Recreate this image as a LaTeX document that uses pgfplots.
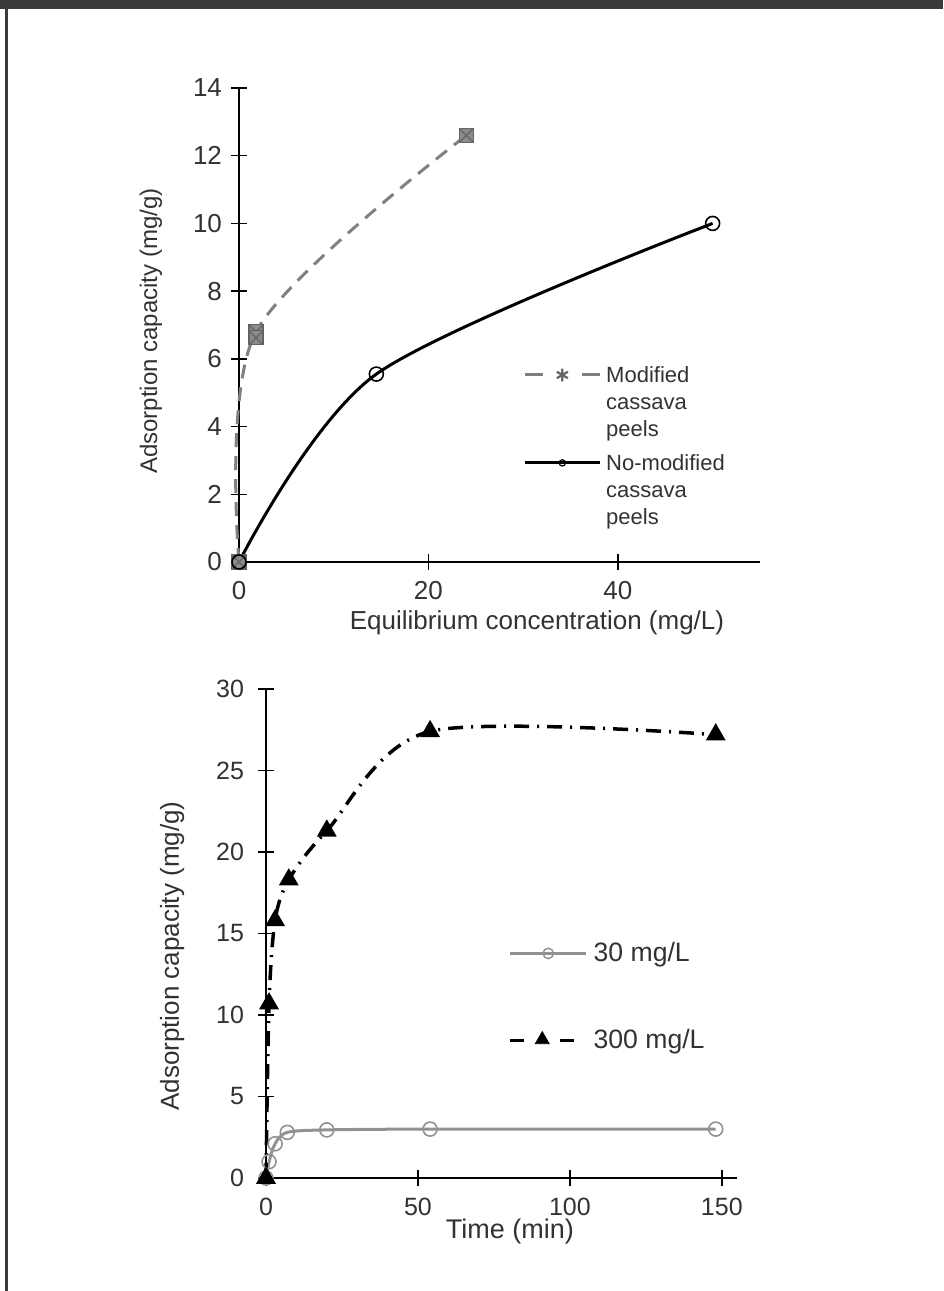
\documentclass[border=0pt]{standalone}
\usepackage{fontspec}
\setmainfont{Liberation Sans}
\usepackage{pgfplots}
\pgfplotsset{compat=1.18}

\definecolor{txt}{RGB}{50,50,50}
\definecolor{modgray}{RGB}{128,128,128}
\definecolor{mkgray}{RGB}{100,100,100}
\definecolor{lowgray}{RGB}{145,145,145}
\definecolor{barc}{RGB}{58,58,58}

% gray box with a cross, as in the spreadsheet chart
\pgfdeclareplotmark{boxx}{%
  \pgfpathrectangle{\pgfqpoint{-\pgfplotmarksize}{-\pgfplotmarksize}}%
    {\pgfqpoint{2\pgfplotmarksize}{2\pgfplotmarksize}}%
  \pgfusepathqfillstroke
  \pgfpathmoveto{\pgfqpoint{-\pgfplotmarksize}{-\pgfplotmarksize}}%
  \pgfpathlineto{\pgfqpoint{\pgfplotmarksize}{\pgfplotmarksize}}%
  \pgfpathmoveto{\pgfqpoint{-\pgfplotmarksize}{\pgfplotmarksize}}%
  \pgfpathlineto{\pgfqpoint{\pgfplotmarksize}{-\pgfplotmarksize}}%
  \pgfusepathqstroke
}

\pgfplotsset{
  excel/.style={
    scale only axis,
    axis lines=left,
    axis line style={-, black, line width=0.9pt},
    tick align=center,
    major tick length=8pt,
    tick style={black, line width=0.7pt},
    ticklabel style={text=txt},
    label style={text=txt},
    /pgf/number format/assume math mode=true,
    clip=false,
    legend cell align=left,
    legend style={draw=none, fill=none, inner sep=0pt, text=txt,
      cells={align=left}, nodes={inner sep=1pt}},
  },
}

\begin{document}
\begin{tikzpicture}
\useasboundingbox (0,0) rectangle (471.5pt,645.5pt);
\fill[barc] (0,641pt) rectangle (471.5pt,645.5pt);
\draw[barc, line width=1.5pt] (3pt,0) -- (3pt,641pt);

% isotherm
\begin{axis}[excel,
  at={(119.5pt,364.5pt)}, anchor=south west,
  width=260.5pt, height=237pt,
  xmin=0, xmax=55, ymin=0, ymax=14,
  xtick={0,20,40}, ytick={0,2,...,14},
  ticklabel style={font=\fontsize{13}{15}\selectfont},
  xticklabel style={yshift=-2pt},
  yticklabel style={xshift=-1pt},
  xlabel={Equilibrium concentration (mg/L)},
  ylabel={Adsorption capacity (mg/g)},
  xlabel style={font=\fontsize{13}{15}\selectfont,
    at={(axis description cs:0.572,-0.1414)}, anchor=base},
  ylabel style={font=\fontsize{12}{14}\selectfont,
    at={(axis description cs:-0.157,0.487)}, anchor=base},
  legend style={at={(axis description cs:0.545,0.4175)}, anchor=north west,
    font=\fontsize{11}{13.5}\selectfont, row sep=5.5pt},
]
\addplot[modgray, line width=1.5pt, dash pattern=on 7pt off 4.5pt, smooth,
  mark=boxx, mark size=3.5pt,
  mark options={solid, fill=mkgray!75, draw=mkgray, line width=0.6pt}, forget plot]
  coordinates {(0,0) (1.8,6.8) (24,12.6)};
\addplot[only marks, mark=boxx, mark size=3.5pt,
  mark options={solid, fill=mkgray!75, draw=mkgray, line width=0.6pt}, forget plot]
  coordinates {(1.8,6.62)};
\addplot[black, line width=1.5pt, smooth, mark=o, mark size=3.5pt,
  mark options={solid, line width=0.8pt}, forget plot]
  coordinates {(0,0) (14.5,5.55) (50,10)};
\addlegendimage{legend image code/.code={
  \begin{scope}[yshift=14pt]
  \draw[modgray, line width=1.5pt, dash pattern=on 9pt off 19.5pt,
    mark=asterisk, mark size=3.2pt, mark repeat=2, mark phase=2,
    mark options={solid, mkgray, line width=1.1pt}]
    plot coordinates {(0pt,0pt) (18.75pt,0pt) (37.5pt,0pt)};
  \path (39.5pt,0pt);
  \end{scope}}}
\addlegendentry{Modified\\cassava\\peels}
\addlegendimage{legend image code/.code={
  \begin{scope}[yshift=14pt]
  \draw[black, line width=1.5pt, mark=o, mark size=1.6pt,
    mark repeat=2, mark phase=2, mark options={line width=0.6pt}]
    plot coordinates {(0pt,0pt) (18.75pt,0pt) (37.5pt,0pt)};
  \path (39.5pt,0pt);
  \end{scope}}}
\addlegendentry{No-modified\\cassava\\peels}
\end{axis}

% kinetics
\begin{axis}[excel,
  at={(133pt,56.5pt)}, anchor=south west,
  width=235.5pt, height=244.5pt,
  xmin=0, xmax=155, ymin=0, ymax=30,
  xtick={0,50,100,150}, ytick={0,5,...,30},
  ticklabel style={font=\fontsize{12.5}{14}\selectfont},
  xticklabel style={yshift=-2.5pt},
  yticklabel style={xshift=-3.5pt},
  xlabel={Time (min)},
  ylabel={Adsorption capacity (mg/g)},
  xlabel style={font=\fontsize{13.5}{15}\selectfont,
    at={(axis description cs:0.518,-0.1247)}, anchor=base},
  ylabel style={font=\fontsize{13}{15}\selectfont,
    at={(axis description cs:-0.185,0.454)}, anchor=base},
  legend style={at={(axis description cs:0.514,0.487)}, anchor=north west,
    font=\fontsize{13.3}{15}\selectfont, row sep=30.5pt},
]
\addplot[lowgray, line width=1.5pt, smooth, mark=o, mark size=3.5pt,
  mark options={solid, line width=0.8pt}, forget plot]
  coordinates {(0,0) (1,1.0) (3,2.1) (7,2.8) (20,2.95) (54,3.0) (148,3.0)};
\addplot[black, line width=1.75pt, smooth,
  dash pattern=on 7.5pt off 4pt on 1pt off 4pt,
  mark=triangle*, mark size=4pt, mark options={solid}, forget plot]
  coordinates {(0,0) (1,10.7) (3,15.8) (7.5,18.3) (20,21.3) (54,27.4) (148,27.2)};
\addlegendimage{legend image code/.code={
  \draw[lowgray, line width=1.5pt, mark=o, mark size=2.6pt,
    mark repeat=2, mark phase=2, mark options={line width=0.7pt}]
    plot coordinates {(0pt,0pt) (19pt,0pt) (38pt,0pt)};
  \path (40.5pt,0pt);}}
\addlegendentry{30 mg/L}
\addlegendimage{legend image code/.code={
  \draw[black, line width=1.75pt, dash pattern=on 7pt off 18pt]
    (0pt,0pt) -- (32pt,0pt);
  \fill[black] (16pt,0.5pt) +(90:4pt) -- +(210:4pt) -- +(330:4pt) -- cycle;
  \path (40.5pt,0pt);}}
\addlegendentry{300 mg/L}
\end{axis}
\end{tikzpicture}
\end{document}
